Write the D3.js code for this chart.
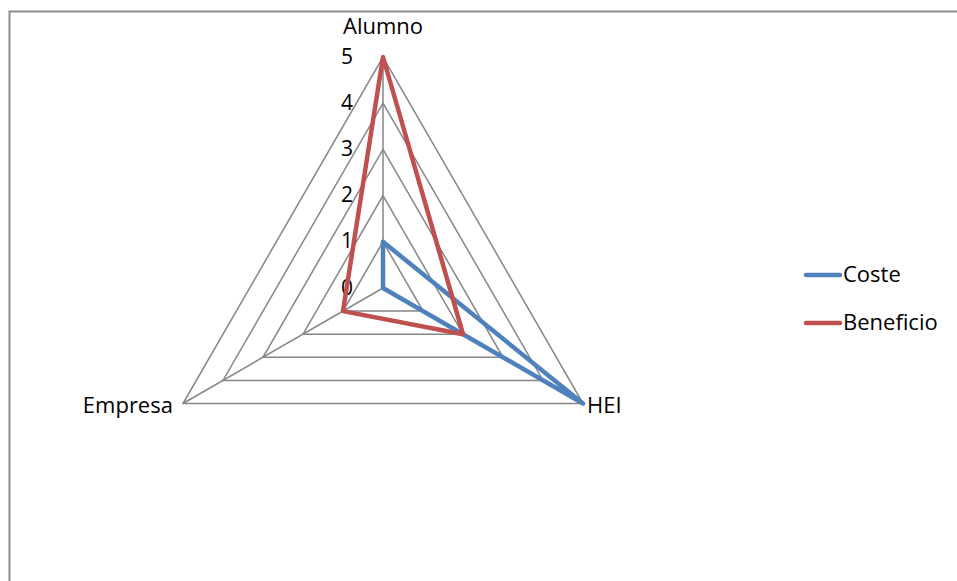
<!DOCTYPE html>
<html>
<head>
<meta charset="utf-8">
<script src="https://cdn.jsdelivr.net/npm/d3@7"></script>
<style>
  html, body { margin: 0; padding: 0; background: #fff; }
  svg { display: block; }
  text { font-family: "Open Sans", "Noto Sans", sans-serif; fill: #000; }
</style>
</head>
<body>
<svg id="chart" width="957" height="581"></svg>
<script>
// Radar axes (clockwise from the top)
const axes = ["Alumno", "HEI", "Empresa"];
const tickValues = [0, 1, 2, 3, 4, 5];
const seriesNames = ["Coste", "Beneficio"];
const costeValues = [1, 5, 0];
const beneficioValues = [5, 2, 1];
const seriesColors = ["#4F81BD", "#C0504D"];

const svg = d3.select("#chart");
const W = 957, H = 581;

// chart frame
svg.append("rect")
  .attr("x", 9.5).attr("y", 11.5)
  .attr("width", W).attr("height", H)
  .attr("fill", "#fff").attr("stroke", "#8c8c8c").attr("stroke-width", 2);

const cx = 383, cy = 288;
const r = d3.scaleLinear().domain([0, 5]).range([0, 231]);
const angle = d3.scalePoint().domain(axes).range([0, 2 * Math.PI * (axes.length - 1) / axes.length]);

function pt(axis, v) {
  const a = angle(axis) - Math.PI / 2;
  return [cx + r(v) * Math.cos(a), cy + r(v) * Math.sin(a)];
}

const g = svg.append("g");

// grid rings
tickValues.filter(t => t > 0).forEach(t => {
  g.append("polygon")
    .attr("points", axes.map(a => pt(a, t).join(",")).join(" "))
    .attr("fill", "none").attr("stroke", "#868686").attr("stroke-width", 1.5);
});

// spokes
axes.forEach(a => {
  const [x, y] = pt(a, 5);
  g.append("line")
    .attr("x1", cx).attr("y1", cy).attr("x2", x).attr("y2", y)
    .attr("stroke", "#868686").attr("stroke-width", 1.5);
});

// value tick labels along the top spoke
tickValues.forEach(t => {
  g.append("text")
    .attr("x", cx - 36).attr("y", cy - r(t) + 1)
    .attr("dominant-baseline", "middle")
    .attr("text-anchor", "middle")
    .attr("font-size", 21)
    .text(t);
});

// category labels
const fs = 22;
const [ax, ay] = pt("Alumno", 5);
g.append("text").attr("x", ax).attr("y", ay - 29)
  .attr("text-anchor", "middle").attr("dominant-baseline", "middle")
  .attr("font-size", fs).text("Alumno");
const [hx, hy] = pt("HEI", 5);
g.append("text").attr("x", hx + 4).attr("y", hy + 4)
  .attr("text-anchor", "start").attr("dominant-baseline", "middle")
  .attr("font-size", fs).text("HEI");
const [ex, ey] = pt("Empresa", 5);
g.append("text").attr("x", ex - 10).attr("y", ey + 4)
  .attr("text-anchor", "end").attr("dominant-baseline", "middle")
  .attr("font-size", fs).text("Empresa");

// series polygons
const seriesData = [costeValues, beneficioValues];
seriesData.forEach((vals, i) => {
  g.append("polygon")
    .attr("points", axes.map((a, j) => pt(a, vals[j]).join(",")).join(" "))
    .attr("fill", "none")
    .attr("stroke", seriesColors[i])
    .attr("stroke-width", 4.5)
    .attr("stroke-linejoin", "round");
});

// legend
const legend = svg.append("g");
seriesNames.forEach((name, i) => {
  const y = 275 + i * 48;
  legend.append("line")
    .attr("x1", 806).attr("x2", 840).attr("y1", y).attr("y2", y)
    .attr("stroke", seriesColors[i]).attr("stroke-width", 4.5)
    .attr("stroke-linecap", "round");
  legend.append("text")
    .attr("x", 843).attr("y", y + 1)
    .attr("dominant-baseline", "middle")
    .attr("font-size", fs)
    .text(name);
});
</script>
</body>
</html>
